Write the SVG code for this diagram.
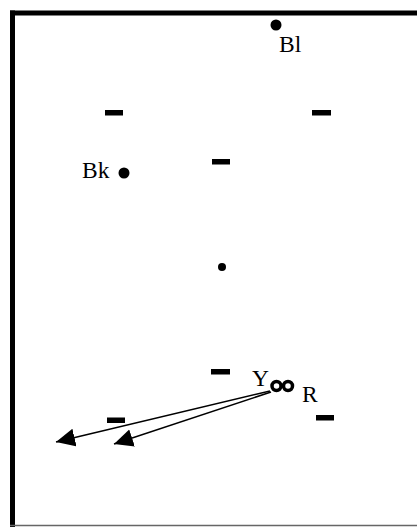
<svg xmlns="http://www.w3.org/2000/svg" width="417" height="527" viewBox="0 0 417 527">
<style>
.lbl{font-family:"Liberation Serif","Times New Roman",serif;font-size:23.5px;fill:#000}
.bar{fill:#000}
.dot{fill:#000}
.ring{fill:none;stroke:#000;stroke-width:3.5}
.edge{stroke:#000;stroke-width:1.5;fill:none}
</style>
<defs>
<marker id="ah" markerUnits="userSpaceOnUse" markerWidth="22" markerHeight="20" refX="19" refY="9" orient="auto">
<path d="M0,0 L19,9 L0,18 z" fill="#000"/>
</marker>
</defs>
<rect x="0" y="0" width="417" height="527" fill="#fff"/>
<g id="frame">
<line x1="10" y1="13" x2="417" y2="13" stroke="#000" stroke-width="5"/>
<line x1="12.5" y1="10.5" x2="12.5" y2="527" stroke="#000" stroke-width="5"/>
<line x1="10" y1="525.5" x2="417" y2="525.5" stroke="#666" stroke-width="1.5"/>
</g>
<g id="Bl"><circle class="dot" cx="276" cy="25" r="5.5"/><text class="lbl" x="279" y="52">Bl</text></g>
<g id="Bk"><circle class="dot" cx="124" cy="173" r="5.5"/><text class="lbl" x="82" y="178">Bk</text></g>
<g id="center"><circle class="dot" cx="222" cy="267" r="4"/></g>
<g id="m1"><rect class="bar" x="105" y="110" width="18" height="5.5"/></g>
<g id="m2"><rect class="bar" x="312" y="110" width="19" height="5.5"/></g>
<g id="m3"><rect class="bar" x="212" y="159" width="18" height="5.5"/></g>
<g id="m4"><rect class="bar" x="211" y="369" width="19" height="5.5"/></g>
<g id="m5"><rect class="bar" x="107" y="417.5" width="18" height="5.5"/></g>
<g id="m6"><rect class="bar" x="316" y="415" width="18" height="5.5"/></g>
<g id="Y"><circle class="ring" cx="276.5" cy="386" r="4.5"/><text class="lbl" x="252" y="386">Y</text></g>
<g id="R"><circle class="ring" cx="288" cy="386" r="4.5"/><text class="lbl" x="302" y="402">R</text></g>
<g id="connectors">
<line class="edge" x1="270" y1="391" x2="56" y2="442" marker-end="url(#ah)"/>
<line class="edge" x1="271" y1="392" x2="114" y2="444" marker-end="url(#ah)"/>
</g>
</svg>
